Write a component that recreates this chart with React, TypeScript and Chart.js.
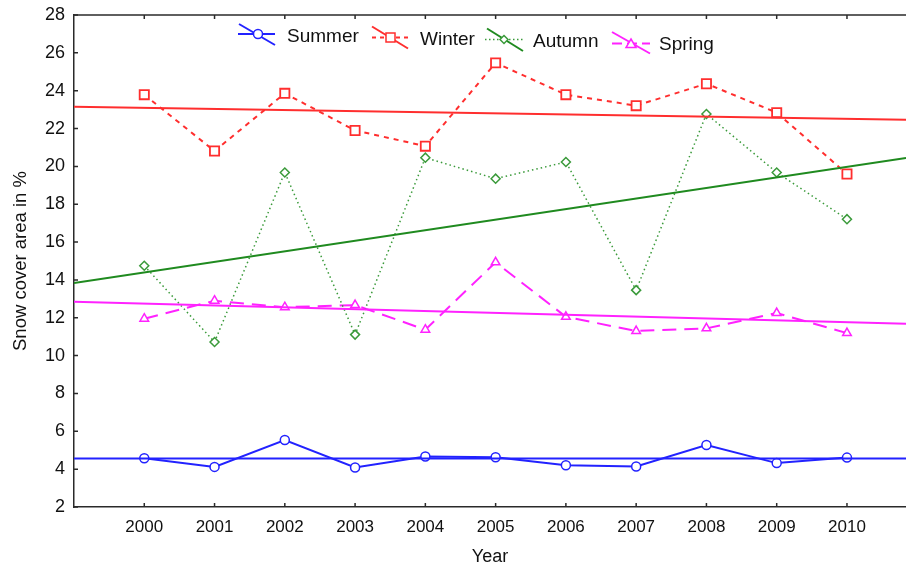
import React, { useEffect, useRef } from 'react';
import { Chart, registerables } from 'chart.js';

Chart.register(...registerables);

const years = [2000, 2001, 2002, 2003, 2004, 2005, 2006, 2007, 2008, 2009, 2010];
const summer = [4.58, 4.12, 5.54, 4.09, 4.67, 4.63, 4.21, 4.14, 5.28, 4.32, 4.61];
const winter = [23.79, 20.81, 23.86, 21.9, 21.07, 25.47, 23.79, 23.21, 24.37, 22.84, 19.6];
const autumn = [14.75, 10.72, 19.68, 11.11, 20.46, 19.35, 20.23, 13.46, 22.77, 19.68, 17.21];
const spring = [11.95, 12.9, 12.56, 12.67, 11.37, 14.93, 12.05, 11.3, 11.44, 12.25, 11.19];

const trendYears = [1999, 2010.84];
const summerTrend = [4.56, 4.56];
const winterTrend = [23.15, 22.47];
const autumnTrend = [13.84, 20.45];
const springTrend = [12.85, 11.68];

const yTicks = [2, 4, 6, 8, 10, 12, 14, 16, 18, 20, 22, 24, 26, 28];
const seriesNames = ['Summer', 'Winter', 'Autumn', 'Spring'];

const FONT = '"Liberation Sans", Arial, sans-serif';
const BLUE = '#2222ff';
const RED = '#ff2e2e';
const GREEN_D = '#3a9a3a';
const GREEN_T = '#1f8a1f';
const MAGENTA = '#ff22ff';
const AXIS = '#2a2a2a';

const pts = (ys: number[]) => years.map((x, i) => ({ x, y: ys[i] }));
const trend = (ys: number[]) => trendYears.map((x, i) => ({ x, y: ys[i] }));

// legend layout (drawn by a small plugin)
const legendLayout = [
  { color: BLUE, trendColor: BLUE, dash: [] as number[], width: 2, marker: 'circle', line: [238, 275, 34], diag: [239, 24, 275, 45], m: [258, 34], tx: 287, ty: 42.3 },
  { color: RED, trendColor: RED, dash: [4, 4], width: 2, marker: 'square', line: [372, 408, 37.5], diag: [372, 26.5, 408, 48.5], m: [390.5, 37.5], tx: 420, ty: 44.8 },
  { color: GREEN_D, trendColor: GREEN_T, dash: [1.5, 2.5], width: 1.5, marker: 'diamond', line: [485, 523, 39.5], diag: [487, 28.5, 523, 51], m: [504, 39.5], tx: 533, ty: 47.3 },
  { color: MAGENTA, trendColor: MAGENTA, dash: [10, 5], width: 2, marker: 'triangle', line: [612, 650, 43.5], diag: [612, 32, 650, 53.5], m: [631, 44], tx: 659, ty: 49.8 },
];

function drawMarker(ctx: CanvasRenderingContext2D, kind: string, x: number, y: number) {
  ctx.beginPath();
  if (kind === 'circle') {
    ctx.arc(x, y, 4.5, 0, Math.PI * 2);
  } else if (kind === 'square') {
    ctx.rect(x - 4.5, y - 4.5, 9, 9);
  } else if (kind === 'diamond') {
    ctx.moveTo(x, y - 4);
    ctx.lineTo(x + 4, y);
    ctx.lineTo(x, y + 4);
    ctx.lineTo(x - 4, y);
    ctx.closePath();
  } else {
    ctx.moveTo(x, y - 5);
    ctx.lineTo(x + 5, y + 3.5);
    ctx.lineTo(x - 5, y + 3.5);
    ctx.closePath();
  }
  ctx.fillStyle = '#fff';
  ctx.fill();
  ctx.stroke();
}

const framePlugin = {
  id: 'frameAndLegend',
  afterDraw(chart: any) {
    const { ctx, chartArea, scales } = chart;
    const { left, right, top, bottom } = chartArea;
    ctx.save();
    // top border
    ctx.strokeStyle = AXIS;
    ctx.lineWidth = 1.5;
    ctx.setLineDash([]);
    ctx.beginPath();
    ctx.moveTo(left, top);
    ctx.lineTo(right, top);
    ctx.stroke();
    // inward ticks
    ctx.lineWidth = 1.5;
    ctx.beginPath();
    years.forEach((yr) => {
      const px = scales.x.getPixelForValue(yr);
      ctx.moveTo(px, bottom);
      ctx.lineTo(px, bottom - 4);
      ctx.moveTo(px, top);
      ctx.lineTo(px, top + 4);
    });
    yTicks.forEach((v) => {
      const py = scales.y.getPixelForValue(v);
      ctx.moveTo(left, py);
      ctx.lineTo(left + 4, py);
    });
    ctx.stroke();

    // legend
    legendLayout.forEach((it, i) => {
      ctx.strokeStyle = it.color;
      ctx.lineWidth = it.width;
      ctx.setLineDash(it.dash);
      ctx.beginPath();
      ctx.moveTo(it.line[0], it.line[2]);
      ctx.lineTo(it.line[1], it.line[2]);
      ctx.stroke();
      ctx.setLineDash([]);
      ctx.strokeStyle = it.trendColor;
      ctx.lineWidth = 2;
      ctx.beginPath();
      ctx.moveTo(it.diag[0], it.diag[1]);
      ctx.lineTo(it.diag[2], it.diag[3]);
      ctx.stroke();
      ctx.strokeStyle = it.color;
      ctx.lineWidth = 1.5;
      drawMarker(ctx, it.marker, it.m[0], it.m[1]);
      ctx.fillStyle = '#111';
      ctx.font = `19px ${FONT}`;
      ctx.textBaseline = 'alphabetic';
      ctx.textAlign = 'left';
      ctx.fillText(seriesNames[i], it.tx, it.ty);
    });
    ctx.restore();
  },
};

export default function App() {
  const ref = useRef<HTMLCanvasElement | null>(null);

  useEffect(() => {
    if (!ref.current) return;
    const base = { showLine: true, tension: 0, fill: false };
    const chart = new Chart(ref.current, {
      type: 'scatter',
      data: {
        datasets: [
          { ...base, label: 'Summer trend', data: trend(summerTrend), borderColor: BLUE, borderWidth: 2, pointRadius: 0 },
          { ...base, label: 'Winter trend', data: trend(winterTrend), borderColor: RED, borderWidth: 2, pointRadius: 0 },
          { ...base, label: 'Autumn trend', data: trend(autumnTrend), borderColor: GREEN_T, borderWidth: 2, pointRadius: 0 },
          { ...base, label: 'Spring trend', data: trend(springTrend), borderColor: MAGENTA, borderWidth: 2, pointRadius: 0 },
          {
            ...base, label: 'Autumn', data: pts(autumn), borderColor: GREEN_D, borderWidth: 1.5, borderDash: [1.5, 3],
            pointStyle: 'rectRot', pointRadius: 4.5, pointBorderWidth: 1.5, pointBorderColor: GREEN_D, pointBackgroundColor: '#fff',
          },
          {
            ...base, label: 'Winter', data: pts(winter), borderColor: RED, borderWidth: 2, borderDash: [5, 5],
            pointStyle: 'rect', pointRadius: 6.5, pointBorderWidth: 1.8, pointBorderColor: RED, pointBackgroundColor: '#fff',
          },
          {
            ...base, label: 'Spring', data: pts(spring), borderColor: MAGENTA, borderWidth: 2, borderDash: [14, 8],
            pointStyle: 'triangle', pointRadius: 5, pointBorderWidth: 1.5, pointBorderColor: MAGENTA, pointBackgroundColor: '#fff',
          },
          {
            ...base, label: 'Summer', data: pts(summer), borderColor: BLUE, borderWidth: 2,
            pointStyle: 'circle', pointRadius: 4.5, pointBorderWidth: 1.5, pointBorderColor: BLUE, pointBackgroundColor: '#fff',
          },
        ],
      },
      options: {
        animation: false,
        responsive: true,
        maintainAspectRatio: false,
        layout: { autoPadding: false, padding: { top: 15, right: 0, bottom: 0, left: 0 } },
        plugins: { legend: { display: false }, tooltip: { enabled: false } },
        scales: {
          x: {
            type: 'linear',
            min: trendYears[0],
            max: trendYears[1],
            afterBuildTicks: (s: any) => { s.ticks = years.map((v) => ({ value: v })); },
            afterFit: (s: any) => { s.height = 61; s.paddingLeft = 0; s.paddingRight = 0; s.paddingTop = 0; s.paddingBottom = 0; },
            grid: { display: false, drawTicks: false },
            border: { display: true, color: AXIS, width: 1.5 },
            ticks: { color: '#111', padding: 10, font: { size: 17, family: FONT }, callback: (v: any) => String(v), maxRotation: 0, autoSkip: false },
            title: { display: true, text: 'Year', color: '#111', font: { size: 18, family: FONT }, padding: { top: 0, bottom: 0 } },
          },
          y: {
            type: 'linear',
            min: 2,
            max: 28,
            afterBuildTicks: (s: any) => { s.ticks = yTicks.map((v) => ({ value: v })); },
            afterFit: (s: any) => { s.width = 74; s.paddingTop = 0; s.paddingBottom = 0; s.paddingLeft = 0; s.paddingRight = 0; },
            grid: { display: false, drawTicks: false },
            border: { display: true, color: AXIS, width: 1.5 },
            ticks: { color: '#111', padding: 9, font: { size: 18, family: FONT }, callback: (v: any) => String(v) },
            title: { display: true, text: 'Snow cover area in %', color: '#111', font: { size: 18.5, family: FONT }, padding: { top: 10, bottom: 0 } },
          },
        },
      },
      plugins: [framePlugin],
    } as any);
    return () => chart.destroy();
  }, []);

  return (
    <div style={{ position: 'fixed', left: 0, top: 0, width: 906, height: 568, background: '#fff' }}>
      <canvas ref={ref} />
    </div>
  );
}
